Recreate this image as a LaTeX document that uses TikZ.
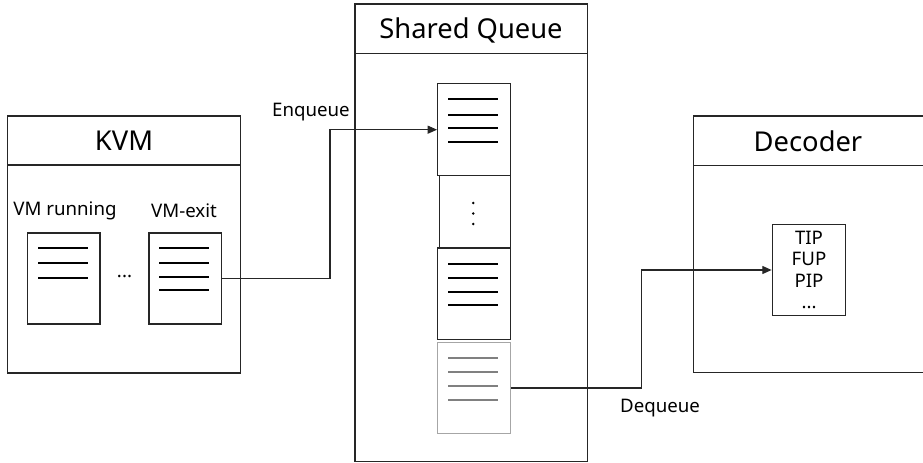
\documentclass[tikz,border=0pt]{standalone}
\usepackage{fontspec}
\setmainfont{Noto Sans}
\usetikzlibrary{arrows.meta,fit}
\begin{document}
\begin{tikzpicture}[x=0.75pt,y=-0.75pt,
  frame/.style={draw=black!85,line width=1pt,inner sep=0pt},
  doc/.style={draw=black!85,line width=1pt,fill=white,inner sep=0pt},
  ghostdoc/.style={draw=black!35,line width=1pt,fill=white,inner sep=0pt},
  rule/.style={line width=1.6pt,black},
  ghostrule/.style={line width=1.6pt,black!50},
  title/.style={font=\fontsize{20.5}{24}\selectfont},
  label/.style={font=\fontsize{14}{16}\selectfont},
  link/.style={draw=black!85,line width=0.8pt},
  tip/.style={-{Triangle[length=7pt,width=6pt]}}]
\useasboundingbox (0,0) rectangle (923,463);

% ---- KVM ----
\node[frame,fit={(7.5,116) (240.5,373)}] (kvm) {};
\draw[frame] (7.5,165) -- (240.5,165);
\node[title] (kvmt) at (124,141) {KVM};
\node[label] (run) at (65,211) {VM running};
\node[label] (exit) at (184,211) {VM-exit};
\node[doc,fit={(27.5,233) (100,324)}] (d1) {};
\foreach \y in {248.3,263,278.3} \draw[rule] (38,\y) -- (88,\y);
\node[doc,fit={(149,233) (221.3,324)}] (d2) {};
\foreach \y in {248.3,263,277,290.3} \draw[rule] (159,\y) -- (209,\y);
\node[label] (kdots) at (124.5,276) {\textbf{...}};

% ---- Shared Queue ----
\node[frame,fit={(355,4) (587.7,461.7)}] (sq) {};
\draw[frame] (355,53.3) -- (587.7,53.3);
\node[title] (sqt) at (471,30) {Shared Queue};
\node[doc,fit={(437.7,83.7) (510.3,175.7)}] (qa) {};
\foreach \y in {99.3,115,128,142.3} \draw[rule] (448.3,\y) -- (498.3,\y);
\node[doc,fit={(439.3,175.7) (510.3,248)}] (qd) {};
\foreach \y in {203,213.5,224} \fill (473.3,\y) circle (1.4);
\node[doc,fit={(437.7,248) (510.3,339.3)}] (qb) {};
\foreach \y in {263.7,278,292.3,305.3} \draw[rule] (448.3,\y) -- (498.3,\y);
\node[ghostdoc,fit={(437.7,342.7) (510.3,433.3)}] (qc) {};
\foreach \y in {358,372.3,385.7,399.7} \draw[ghostrule] (448.3,\y) -- (498.3,\y);

% ---- Decoder ----
\node[frame,fit={(693.7,116) (926,372.7)}] (dec) {};
\draw[frame] (693.7,165.3) -- (926,165.3);
\node[title] (dect) at (808,141) {Decoder};
\node[doc,fit={(772.3,224.3) (845.7,315.7)}] (pk) {};
\node[label,align=center,inner sep=0pt] (pkt) at (809,270)
  {\fontsize{14}{16.9}\selectfont TIP\\FUP\\PIP\\...};

% ---- connectors ----
\coordinate (enq) at (330,200);
\coordinate (deq) at (641.3,330);
\draw[link,tip] (d2.east) -| (enq) |- (qa.west);
\draw[link,tip] (qc.east) -| (deq) |- (pk.west);
\node[label] (enql) at (311,112) {Enqueue};
\node[label] (deql) at (660,408) {Dequeue};
\end{tikzpicture}
\end{document}
